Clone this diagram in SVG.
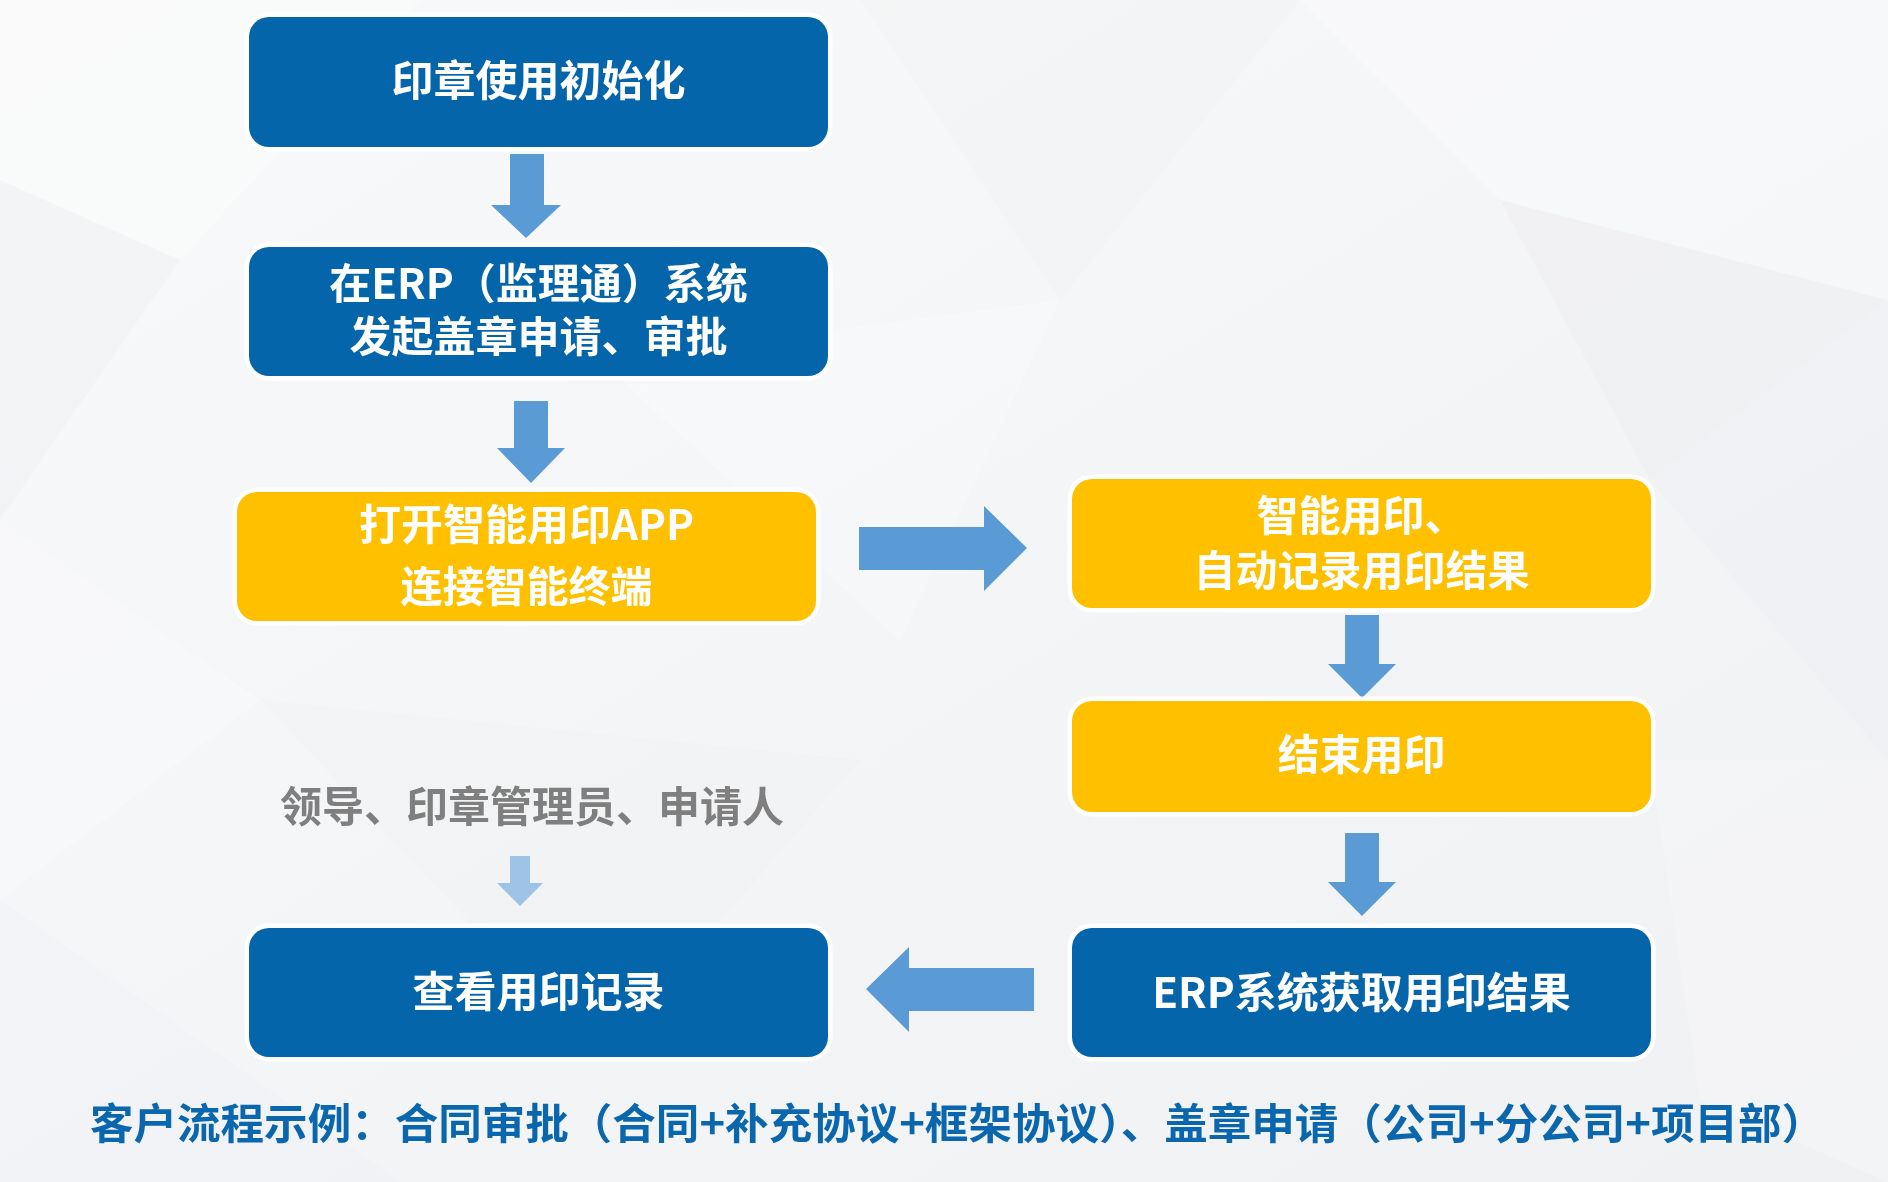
<svg xmlns="http://www.w3.org/2000/svg" width="1888" height="1182" viewBox="0 0 1888 1182">
<defs>
<linearGradient id="bg" x1="0" y1="0" x2="1" y2="1">
<stop offset="0" stop-color="#f8f9fa"/>
<stop offset="0.5" stop-color="#f4f5f7"/>
<stop offset="1" stop-color="#f0f1f3"/>
</linearGradient>
<style>
.box{stroke:#ffffff;stroke-width:9;paint-order:stroke;}
.blue{fill:#0565ab;}
.yellow{fill:#ffc000;}
.t{font-family:"Noto Sans CJK SC","Noto Sans",sans-serif;font-weight:700;font-size:42px;fill:#ffffff;text-anchor:middle;}
.arrow{fill:#5b9bd5;}
.gray{fill:#7f7f7f;}
.note{fill:#0a67ae;text-anchor:start;}
.poly{fill:#ffffff;}
.polyd{fill:#e6e8eb;}
</style>
</defs>
<rect x="0" y="0" width="1888" height="1182" fill="url(#bg)"/>
<g id="background" opacity="0.35">
<polygon class="poly" points="0,0 420,0 180,260 0,180" opacity="0.8"/>
<polygon class="polyd" points="0,180 180,260 0,520" opacity="0.5"/>
<polygon class="poly" points="1300,0 1888,0 1888,300 1500,200" opacity="0.8"/>
<polygon class="polyd" points="1500,200 1888,300 1650,480" opacity="0.5"/>
<polygon class="polyd" points="1650,480 1888,300 1888,760" opacity="0.4"/>
<polygon class="poly" points="600,360 1060,300 900,640" opacity="0.7"/>
<polygon class="polyd" points="860,0 1300,0 1060,300" opacity="0.35"/>
<polygon class="poly" points="0,520 260,700 0,900" opacity="0.6"/>
<polygon class="polyd" points="260,700 860,760 600,1060" opacity="0.3"/>
<polygon class="poly" points="1650,760 1888,760 1888,1182 1700,1100" opacity="0.6"/>
<polygon class="polyd" points="0,900 400,1182 0,1182" opacity="0.4"/>
</g>

<g id="connectors">
<polygon class="arrow" points="510,154 544,154 544,205 561,205 526,238 491,205 510,205"/>
<polygon class="arrow" points="514,401 548,401 548,448 565,448 531,483 497,448 514,448"/>
<polygon class="arrow" points="859,527 984,527 984,506 1027,548 984,591 984,570 859,570"/>
<polygon class="arrow" points="1345,615 1379,615 1379,664 1396,664 1362,698 1328,664 1345,664"/>
<polygon class="arrow" points="1345,833 1379,833 1379,882 1396,882 1362,916 1328,882 1345,882"/>
<polygon class="arrow" points="1034,968 1034,1011 909,1011 909,1032 866,989 909,947 909,968"/>
<polygon points="510,856 530,856 530,883 543,883 520,906 497,883 510,883" fill="#9dc3e6"/>
</g>

<g id="n1">
<rect class="box blue" x="249" y="17" width="579" height="130" rx="20"/>
<text class="t" x="538.5" y="96">印章使用初始化</text>
</g>
<g id="n2">
<rect class="box blue" x="249" y="247" width="579" height="129" rx="20"/>
<text class="t" x="538.5" y="299">在ERP（监理通）系统</text>
<text class="t" x="538.5" y="352">发起盖章申请、审批</text>
</g>
<g id="n3">
<rect class="box yellow" x="237" y="492" width="579" height="129" rx="20"/>
<text class="t" x="526.5" y="540">打开智能用印APP</text>
<text class="t" x="526.5" y="602">连接智能终端</text>
</g>
<g id="n4">
<rect class="box yellow" x="1072" y="479" width="579" height="129" rx="20"/>
<text class="t" x="1361.5" y="531">智能用印、</text>
<text class="t" x="1361.5" y="586">自动记录用印结果</text>
</g>
<g id="n5">
<rect class="box yellow" x="1072" y="701" width="579" height="111" rx="20"/>
<text class="t" x="1361.5" y="770">结束用印</text>
</g>
<g id="n6">
<rect class="box blue" x="1072" y="928" width="579" height="129" rx="20"/>
<text class="t" x="1361.5" y="1008">ERP系统获取用印结果</text>
</g>
<g id="n7">
<rect class="box blue" x="249" y="928" width="579" height="129" rx="20"/>
<text class="t" x="538.5" y="1007">查看用印记录</text>
</g>
<g id="roles">
<text class="t gray" x="532" y="822">领导、印章管理员、申请人</text>
</g>
<g id="note">
<text class="t note" x="90" y="1139" textLength="1735" lengthAdjust="spacingAndGlyphs">客户流程示例：合同审批（合同+补充协议+框架协议）、盖章申请（公司+分公司+项目部）</text>
</g>
</svg>
